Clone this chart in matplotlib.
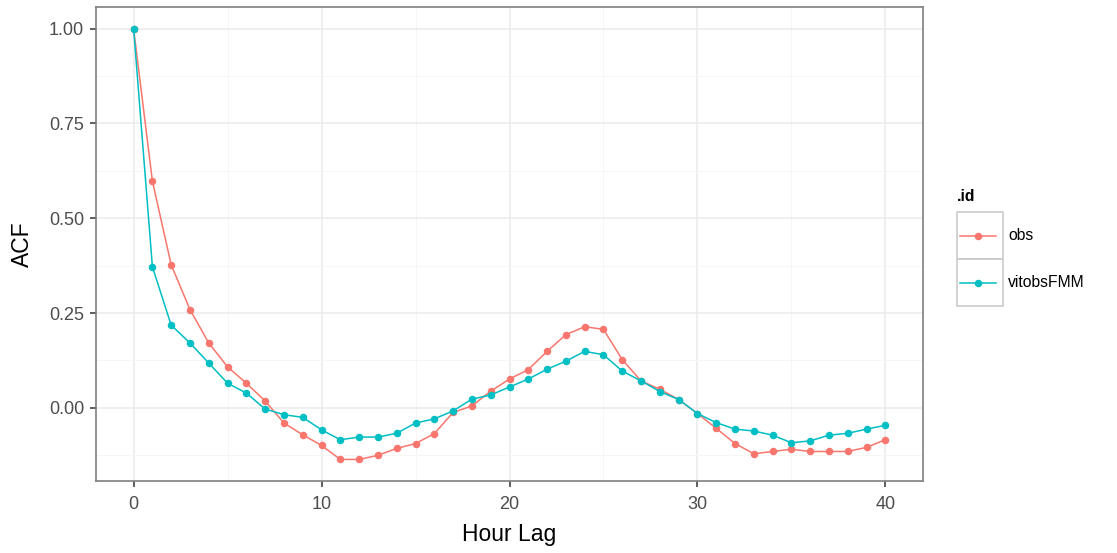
import matplotlib
matplotlib.use("Agg")
import matplotlib.pyplot as plt
from matplotlib.patches import Rectangle
from matplotlib.lines import Line2D

plt.rcParams['font.family'] = ['Liberation Sans', 'DejaVu Sans']

# autocorrelation by hour lag
lags = list(range(0, 41))
obs = [1.000, 0.598, 0.377, 0.259, 0.171, 0.108, 0.065, 0.018, -0.040, -0.071,
       -0.099, -0.136, -0.136, -0.125, -0.107, -0.094, -0.068, -0.012, 0.005, 0.044,
       0.076, 0.101, 0.149, 0.193, 0.214, 0.207, 0.127, 0.071, 0.049, 0.022,
       -0.015, -0.054, -0.094, -0.121, -0.115, -0.109, -0.115, -0.115, -0.115, -0.104,
       -0.084]
vitobsFMM = [1.000, 0.372, 0.218, 0.171, 0.118, 0.065, 0.039, -0.003, -0.018, -0.025,
             -0.058, -0.084, -0.077, -0.077, -0.067, -0.040, -0.029, -0.008, 0.023, 0.034,
             0.055, 0.076, 0.102, 0.123, 0.149, 0.140, 0.097, 0.071, 0.043, 0.022,
             -0.015, -0.039, -0.056, -0.061, -0.072, -0.092, -0.087, -0.072, -0.067, -0.056,
             -0.046]
series = [("obs", obs, "#F8766D"), ("vitobsFMM", vitobsFMM, "#00BFC4")]
xticks = [0, 10, 20, 30, 40]
yticks = [0.0, 0.25, 0.5, 0.75, 1.0]

W, H = 1117, 553
fig = plt.figure(figsize=(W / 100, H / 100), dpi=100)
ax = fig.add_axes([96 / W, 1 - 481 / H, (923 - 96) / W, (481 - 7) / H])

for name, vals, col in series:
    ax.plot(lags, vals, color=col, lw=1.1, marker="o", ms=4.4, mec=col, mfc=col, zorder=3)

# ggplot-like limits with 5% expansion
allv = obs + vitobsFMM
lo, hi = min(allv), max(allv)
pad = (hi - lo) * 0.05
ax.set_ylim(lo - pad, hi + pad)
ax.set_xlim(-2, 42)

ax.set_xticks(xticks)
ax.set_xticklabels([str(t) for t in xticks])
ax.set_yticks(yticks)
ax.set_yticklabels(["%.2f" % t for t in yticks])
ax.set_xticks([5, 15, 25, 35], minor=True)
ax.set_yticks([-0.125, 0.125, 0.375, 0.625, 0.875], minor=True)
ax.grid(which="major", color="#EBEBEB", lw=1.1, zorder=0)
ax.grid(which="minor", color="#F5F5F5", lw=0.6, zorder=0)
ax.tick_params(which="minor", length=0)
ax.tick_params(which="major", length=4, width=1.1, color="#333333",
               labelsize=13, labelcolor="#4D4D4D")
ax.tick_params(axis="x", pad=6.5)
ax.tick_params(axis="y", pad=4.5)
for s in ax.spines.values():
    s.set_color("#7F7F7F")
    s.set_linewidth(1.2)
ax.set_axisbelow(True)

ax.set_xlabel("Hour Lag", fontsize=16.5, va="center")
ax.set_ylabel("ACF", fontsize=16.5, va="center")
ax.xaxis.set_label_coords(0.5, (481 - 535) / 474)
ax.yaxis.set_label_coords((22 - 96) / 827, 0.5)

# legend drawn ggplot-style: title, boxed keys, labels
fig.text(957 / W, 1 - 197 / H, ".id", fontsize=11.3, fontweight="bold", va="center", ha="left")
key_top, key_h, key_l, key_w = 212, 47, 957, 46
for i, (name, vals, col) in enumerate(series):
    y0 = key_top + i * key_h
    fig.patches.append(Rectangle((key_l / W, 1 - (y0 + key_h) / H), key_w / W, key_h / H,
                                 transform=fig.transFigure, fill=False,
                                 edgecolor="#CCCCCC", lw=1.2))
    yc = 1 - (y0 + key_h / 2) / H
    fig.lines.append(Line2D([(key_l + 3) / W, (key_l + key_w - 7) / W], [yc, yc],
                            transform=fig.transFigure, color=col, lw=1.1))
    fig.lines.append(Line2D([(key_l + key_w / 2 - 2) / W], [yc], transform=fig.transFigure,
                            color=col, marker="o", ms=4.4))
    fig.text((key_l + key_w + 5) / W, yc, name, fontsize=11.3, va="center", ha="left")

fig.savefig("out.png", dpi=100, facecolor="white")
